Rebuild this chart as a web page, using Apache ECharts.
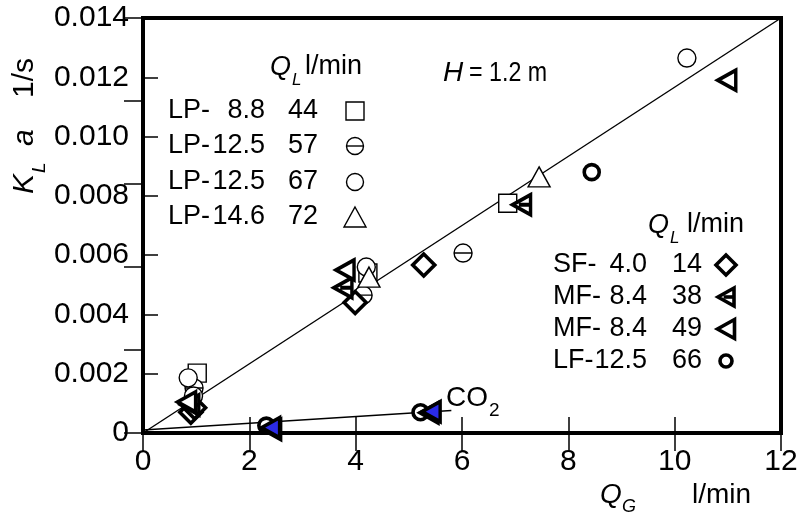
<!DOCTYPE html>
<html>
<head>
<meta charset="utf-8">
<script src="https://cdn.jsdelivr.net/npm/echarts@6/dist/echarts.min.js"></script>
<style>
  html, body { margin: 0; padding: 0; background: #fff; }
  #chart { width: 804px; height: 527px; }
</style>
</head>
<body>
<div id="chart"></div>
<script>
// Gas flow rate Q_G (l/min) against volumetric coefficient K_L a (1/s)
const xTicks = [0, 2, 4, 6, 8, 10, 12];
const yTicks = [0, 0.002, 0.004, 0.006, 0.008, 0.010, 0.012, 0.014];

// O2 absorption runs, [Q_G, K_L a]
const lp88   = [[1.02, 0.00202], [4.23, 0.0054], [6.86, 0.00775]];
const lp125a = [[0.96, 0.00152], [4.14, 0.00465], [6.02, 0.00607]];
const lp125b = [[0.85, 0.00186], [0.95, 0.00125], [4.2, 0.0056], [10.23, 0.01265]];
const lp146  = [[4.25, 0.00526], [7.45, 0.00864]];
const sf40   = [[0.9, 0.0007], [0.97, 0.00085], [3.99, 0.0044], [5.28, 0.00567]];
const mf38   = [[0.88, 0.00095], [3.76, 0.0049], [7.12, 0.0077]];
const mf49   = [[0.82, 0.00105], [3.8, 0.0055], [10.98, 0.0119]];
const lf125  = [[8.44, 0.0088]];

// CO2 absorption runs
const co2Mf38 = [[2.42, 0.00012], [5.38, 0.00068]];
const co2Mf49 = [[2.4, 0.00018], [5.42, 0.00072]];
const co2Lf   = [[2.32, 0.00025], [5.22, 0.0007]];

// Correlation lines
const fitO2  = [[0, 0], [12, 0.014]];
const fitCO2 = [[0, 0.0001], [5.8, 0.00076]];

// Legend text
const headerText = 'l/min';
const lpName  = ['LP-', 'LP-', 'LP-', 'LP-'];
const lpDiam  = ['8.8', '12.5', '12.5', '14.6'];
const lpQL    = ['44', '57', '67', '72'];
const fName   = ['SF-', 'MF-', 'MF-', 'LF-'];
const fDiam   = ['4.0', '8.4', '8.4', '12.5'];
const fQL     = ['14', '38', '49', '66'];

const FONT = 'Liberation Sans';

// symbol outlines in a 20x20 box
const P = {
  square:   'M0,0L20,0L20,20L0,20Z',
  circBar:  'M0,10A10,10,0,1,1,20,10A10,10,0,1,1,0,10ZM0,10L20,10',
  circle:   'M0,10A10,10,0,1,1,20,10A10,10,0,1,1,0,10Z',
  triangle: 'M10,0L20,18L0,18Z',
  diamond:  'M10,0L20,10L10,20L0,10Z',
  triBar:   'M20,0L0,10L20,20ZM7,10L20,10',
  triLeft:  'M20,0L0,10L20,20Z'
};

const kinds = [
  { d: lp88,   p: P.square,   size: [18, 18], bw: 1.4, fill: '#fff' },
  { d: lp125a, p: P.circBar,  size: [18, 18], bw: 1.4, fill: '#fff' },
  { d: lp125b, p: P.circle,   size: [18, 18], bw: 1.4, fill: '#fff' },
  { d: lp146,  p: P.triangle, size: [22, 20], bw: 1.4, fill: '#fff' },
  { d: sf40,   p: P.diamond,  size: [22, 22], bw: 3.6, fill: '#fff' },
  { d: mf38,   p: P.triBar,   size: [18, 20], bw: 3.6, fill: '#fff' },
  { d: mf49,   p: P.triLeft,  size: [18, 20], bw: 3.6, fill: '#fff' },
  { d: lf125,  p: P.circle,   size: [15, 15], bw: 3.6, fill: '#fff' },
  { d: co2Lf,   p: P.circle,  size: [15, 15], bw: 3.6, fill: '#fff' },
  { d: co2Mf38, p: P.triBar,  size: [18, 20], bw: 3.6, fill: '#2b2be8' },
  { d: co2Mf49, p: P.triLeft, size: [18, 20], bw: 3.6, fill: '#2b2be8' }
];

const series = [
  { type: 'line', data: fitO2, symbol: 'none', silent: true, z: 1,
    lineStyle: { color: '#000', width: 1.4 } },
  { type: 'line', data: fitCO2, symbol: 'none', silent: true, z: 1,
    lineStyle: { color: '#000', width: 1.4 } }
].concat(kinds.map(k => ({
  type: 'scatter', data: k.d, z: 3,
  symbol: 'path://' + k.p, symbolSize: k.size,
  itemStyle: { color: k.fill, borderColor: '#000', borderWidth: k.bw, opacity: 1 }
})));

function txt(x, y, s, size, opts) {
  return Object.assign({
    type: 'text', x: x, y: y, z: 10,
    style: Object.assign({
      text: s, fill: '#000', font: (opts && opts.italic ? 'italic ' : '') + size + 'px "' + FONT + '"',
      textAlign: 'left', textVerticalAlign: 'middle'
    }, opts && opts.style)
  }, opts && opts.el);
}

// key glyphs built from basic shapes, centred on (cx, cy)
function keyGlyph(kind, cx, cy, w, h, bw) {
  const st = { fill: '#fff', stroke: '#000', lineWidth: bw };
  const L = cx - w / 2, R = cx + w / 2, T = cy - h / 2, B = cy + h / 2;
  const out = [];
  if (kind === 'square') {
    out.push({ type: 'rect', shape: { x: L, y: T, width: w, height: h }, style: st });
  } else if (kind === 'circle' || kind === 'circBar') {
    out.push({ type: 'circle', shape: { cx: cx, cy: cy, r: w / 2 }, style: st });
    if (kind === 'circBar') out.push({ type: 'line', shape: { x1: L, y1: cy, x2: R, y2: cy }, style: { stroke: '#000', lineWidth: bw } });
  } else if (kind === 'triangle') {
    out.push({ type: 'polygon', shape: { points: [[cx, T], [R, B], [L, B]] }, style: st });
  } else if (kind === 'diamond') {
    out.push({ type: 'polygon', shape: { points: [[cx, T], [R, cy], [cx, B], [L, cy]] }, style: st });
  } else if (kind === 'triLeft' || kind === 'triBar') {
    out.push({ type: 'polygon', shape: { points: [[R, T], [L, cy], [R, B]] }, style: st });
    if (kind === 'triBar') out.push({ type: 'line', shape: { x1: L + w * 0.35, y1: cy, x2: R, y2: cy }, style: { stroke: '#000', lineWidth: bw } });
  }
  out.forEach(e => { e.z = 10; });
  return out;
}

let graphics = [];
// left key
const lpRows = [111, 146, 182, 217];
const lpIcons = [['square', 18, 18], ['circBar', 17, 17], ['circle', 17, 17], ['triangle', 22, 20]];
graphics.push(txt(270, 67, 'Q', 27, { italic: true }));
graphics.push(txt(292, 80, 'L', 17, { italic: true }));
graphics.push(txt(305, 67, headerText, 27));
lpRows.forEach((y, i) => {
  graphics.push(txt(168, y, lpName[i], 27));
  graphics.push(txt(265, y, lpDiam[i], 27, { style: { textAlign: 'right' } }));
  graphics.push(txt(288, y, lpQL[i], 27));
  graphics = graphics.concat(keyGlyph(lpIcons[i][0], 355, y, lpIcons[i][1], lpIcons[i][2], 1.4));
});
// right key
const fRows = [265, 297, 329, 361];
const fIcons = [['diamond', 20, 20], ['triBar', 16, 18], ['triLeft', 17, 19], ['circle', 12, 12]];
graphics.push(txt(648, 225, 'Q', 27, { italic: true }));
graphics.push(txt(670, 238, 'L', 17, { italic: true }));
graphics.push(txt(687, 225, headerText, 27));
fRows.forEach((y, i) => {
  graphics.push(txt(553, y, fName[i], 27));
  graphics.push(txt(647, y, fDiam[i], 27, { style: { textAlign: 'right' } }));
  graphics.push(txt(672, y, fQL[i], 27));
  graphics = graphics.concat(keyGlyph(fIcons[i][0], 726, y, fIcons[i][1], fIcons[i][2], 3.6));
});
// annotations
graphics.push(txt(443, 73, 'H', 28, { italic: true }));
graphics.push(txt(469, 73, '= 1.2 m', 28, { el: { scaleX: 0.83 } }));
graphics.push(txt(446, 398, 'CO', 28));
graphics.push(txt(489, 411, '2', 19));
// axis titles
graphics.push(txt(600, 495, 'Q', 28, { italic: true }));
graphics.push(txt(622, 507, 'G', 18, { italic: true }));
graphics.push(txt(692, 495, 'l/min', 28));
graphics.push({
  type: 'group', x: 25, y: 194, rotation: Math.PI / 2, z: 10,
  children: [
    txt(0, 0, 'K', 30, { italic: true }),
    txt(21, 15, 'L', 19, { italic: true }),
    txt(48, 0, 'a', 30, { italic: true }),
    txt(96, 0, '1/s', 30)
  ]
});

const axisFont = { color: '#000', fontFamily: FONT, fontSize: 30 };
const chart = echarts.init(document.getElementById('chart'), null, { renderer: 'canvas' });
chart.setOption({
  animation: false,
  backgroundColor: '#fff',
  grid: { left: 143, right: 23, top: 18, bottom: 94, show: true,
          borderColor: '#000', borderWidth: 4, backgroundColor: 'transparent' },
  xAxis: [
    { type: 'value', min: xTicks[0], max: xTicks[xTicks.length - 1], interval: xTicks[1] - xTicks[0],
      axisLine: { show: false }, splitLine: { show: false },
      axisTick: { inside: true, length: 16, lineStyle: { color: '#000', width: 1.5 } },
      axisLabel: Object.assign({ margin: 14 }, axisFont) },
    { type: 'value', position: 'top', min: 0, max: 12, interval: 2,
      axisLine: { show: false }, splitLine: { show: false },
      axisTick: { inside: true, length: 18, lineStyle: { color: '#000', width: 1.5 } },
      axisLabel: { show: false } }
  ],
  yAxis: [
    { type: 'value', min: yTicks[0], max: yTicks[yTicks.length - 1], interval: yTicks[1] - yTicks[0],
      axisLine: { show: false }, splitLine: { show: false },
      axisTick: { inside: true, length: 15, lineStyle: { color: '#000', width: 1.5 } },
      axisLabel: Object.assign({ margin: 14,
        formatter: v => (v === 0 ? '0' : v.toFixed(3)) }, axisFont) },
    { type: 'value', position: 'right', min: 0, max: 5, interval: 1,
      axisLine: { show: false }, splitLine: { show: false },
      axisTick: { inside: true, length: 19, lineStyle: { color: '#000', width: 1.5 } },
      axisLabel: { show: false } }
  ],
  series: series,
  graphic: { elements: graphics }
});
</script>
</body>
</html>
